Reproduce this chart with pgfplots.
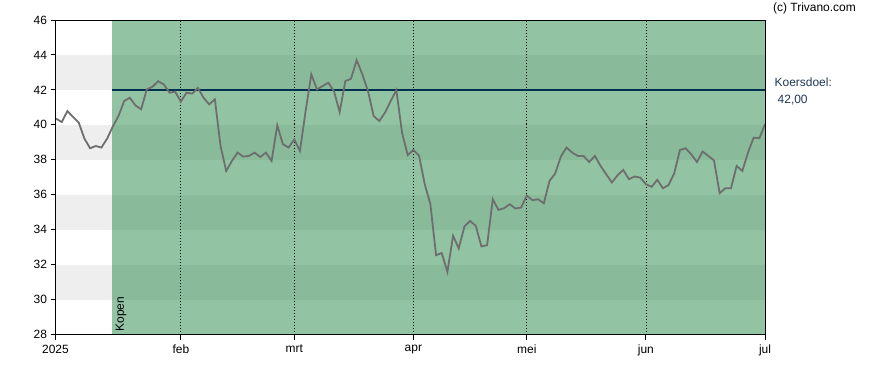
\documentclass[border=0pt]{standalone}
\usepackage{fontspec}
\setmainfont{Liberation Sans}
\usepackage{pgfplots}
\pgfplotsset{compat=1.18}
\definecolor{priceline}{RGB}{110,110,110}
\definecolor{target}{RGB}{0,48,80}
\definecolor{band}{RGB}{238,238,238}
\definecolor{buygreen}{RGB}{49,142,80}
\definecolor{labelblue}{RGB}{30,55,85}

\pgfplotstableread{
idx price
0 40.35
1 40.16
2 40.79
3 40.45
4 40.13
5 39.21
6 38.66
7 38.79
8 38.70
9 39.21
10 39.90
11 40.50
12 41.36
13 41.55
14 41.11
15 40.89
16 42.03
17 42.18
18 42.50
19 42.31
20 41.84
21 41.90
22 41.33
23 41.84
24 41.78
25 42.12
26 41.55
27 41.17
28 41.46
29 38.79
30 37.36
31 37.93
32 38.41
33 38.18
34 38.22
35 38.41
36 38.16
37 38.41
38 37.93
39 39.97
40 38.89
41 38.70
42 39.17
43 38.50
44 40.79
45 42.89
46 42.03
47 42.22
48 42.41
49 41.93
50 40.73
51 42.50
52 42.64
53 43.70
54 42.89
55 41.93
56 40.50
57 40.22
58 40.70
59 41.36
60 41.99
61 39.55
62 38.27
63 38.56
64 38.24
65 36.60
66 35.46
67 32.54
68 32.66
69 31.59
70 33.65
71 32.93
72 34.18
73 34.50
74 34.22
75 33.04
76 33.11
77 35.74
78 35.13
79 35.23
80 35.46
81 35.21
82 35.27
83 35.95
84 35.69
85 35.74
86 35.51
87 36.79
88 37.21
89 38.18
90 38.70
91 38.41
92 38.22
93 38.22
94 37.87
95 38.22
96 37.65
97 37.17
98 36.70
99 37.11
100 37.42
101 36.89
102 37.04
103 36.98
104 36.60
105 36.45
106 36.85
107 36.37
108 36.56
109 37.23
110 38.56
111 38.66
112 38.31
113 37.87
114 38.47
115 38.22
116 37.97
117 36.09
118 36.37
119 36.37
120 37.65
121 37.36
122 38.41
123 39.27
124 39.23
125 40.03
}\pricetable

\begin{document}
\begin{tikzpicture}[x=1bp,y=1bp]
\useasboundingbox (0,0) rectangle (888,370);
\begin{axis}[
  at={(55.5bp,35.5bp)}, anchor=south west,
  scale only axis, width=709.5bp, height=314.5bp,
  xmin=-0.1, xmax=125, ymin=28, ymax=46,
  ytick={28,30,...,46},
  xtick={-0.1,22,42,63,83,104,125},
  xticklabels={2025,feb,mrt,apr,mei,jun,jul},
  tick align=outside, tick pos=left, major tick length=5bp,
  axis line style={black, line width=0.9bp},
  tick style={black, line width=0.9bp},
  ticklabel style={font=\fontsize{12}{14}\selectfont},
  xticklabel style={yshift=-2bp},
  /pgf/number format/assume math mode=true,
  axis on top,
]
\foreach \lo in {30,34,38,42} {
  \edef\temp{\noexpand\fill[band] (axis cs:-0.1,\lo) rectangle (axis cs:125,\lo+2);}
  \temp
}
\fill[buygreen, fill opacity=0.53] (axis cs:9.9,28) rectangle (axis cs:125,46);
\foreach \m in {22,42,63,83,104} {
  \edef\temp{\noexpand\draw[black, line width=0.8bp, dash pattern=on 1bp off 2bp] (axis cs:\m,28) -- (axis cs:\m,46);}
  \temp
}
\addplot[target, line width=1.8bp, no markers] coordinates {(9.9,42) (125,42)};
\addplot[priceline, line width=1.8bp, no markers] table[x=idx, y=price] {\pricetable};
\node[rotate=90, anchor=west, inner sep=0pt, font=\fontsize{12}{14}\selectfont] at (axis cs:11.45,28.17) {Kopen};
\end{axis}
\node[anchor=west, inner sep=0pt, font=\fontsize{12}{14}\selectfont] at (773,362) {(c) Trivano.com};
\node[anchor=west, inner sep=0pt, text=labelblue, font=\fontsize{12}{14}\selectfont] at (774.5,288) {Koersdoel:};
\node[anchor=west, inner sep=0pt, text=labelblue, font=\fontsize{12}{14}\selectfont] at (777.5,270) {42,00};
\end{tikzpicture}
\end{document}
